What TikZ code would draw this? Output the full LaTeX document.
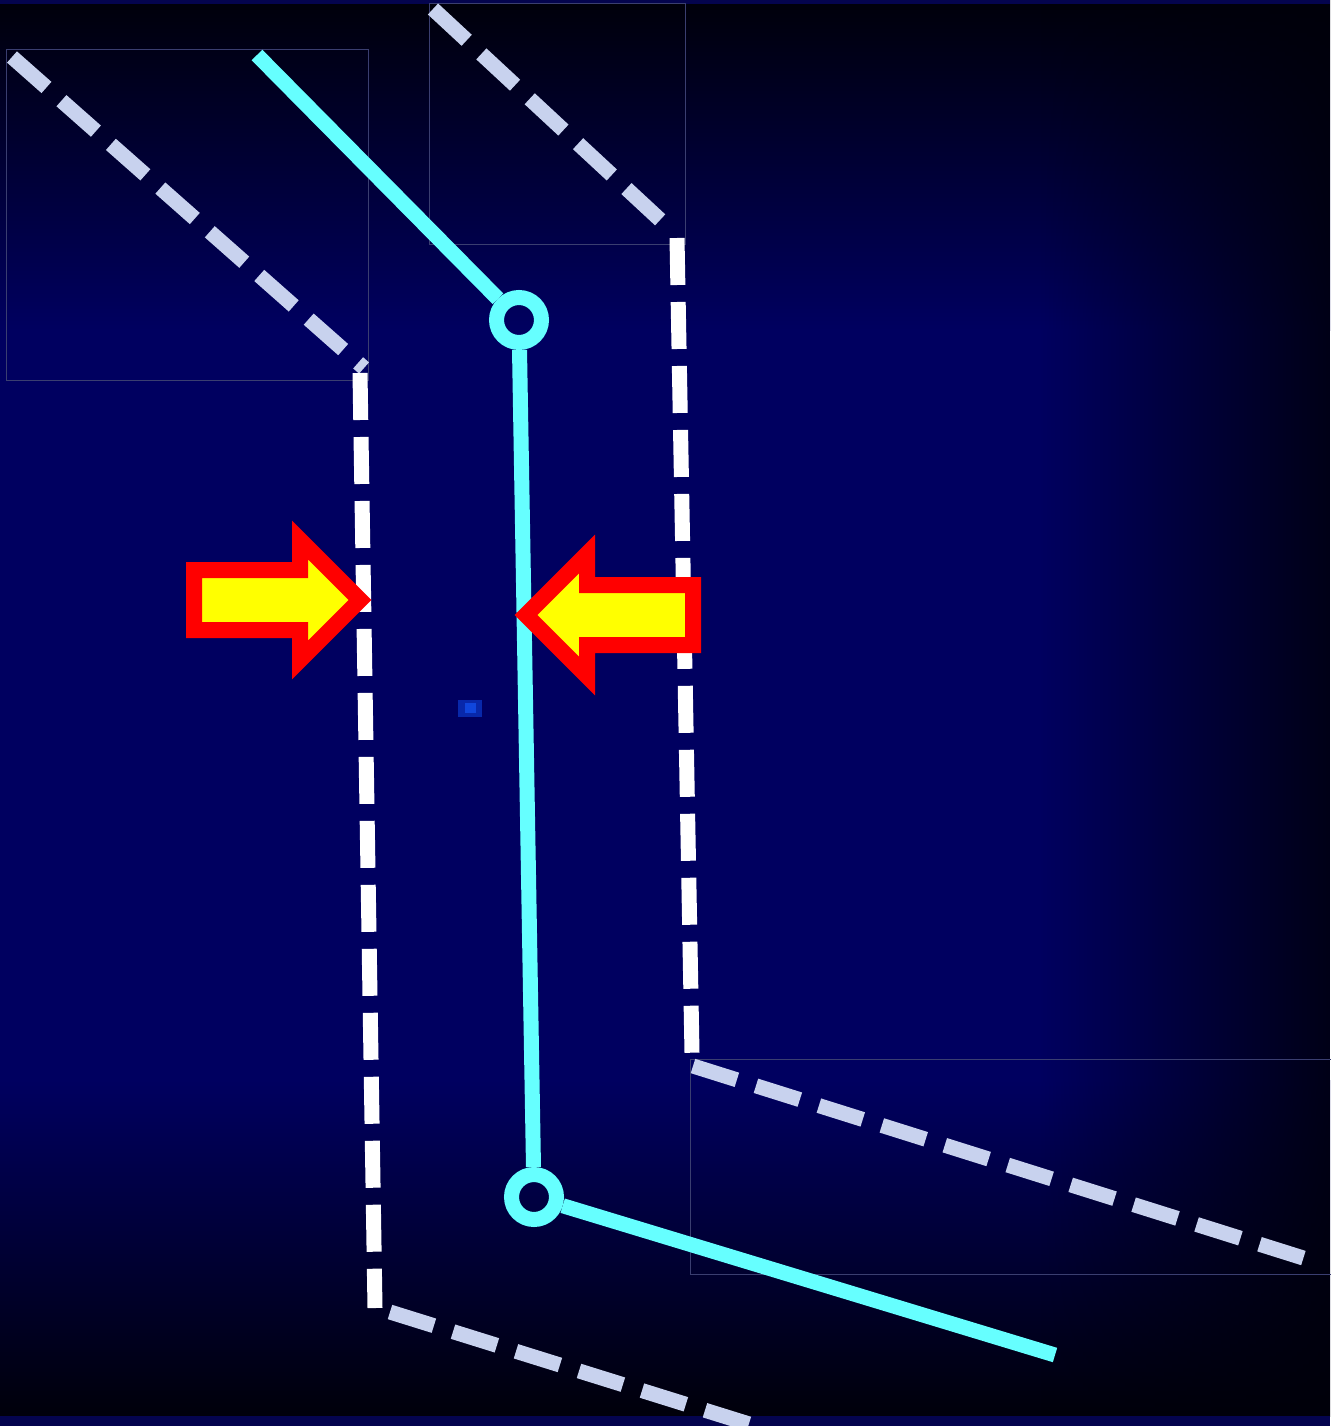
\documentclass[tikz,border=0pt]{standalone}
\usetikzlibrary{fadings}

\definecolor{navy}{RGB}{0,0,96}
\definecolor{deep}{RGB}{0,0,10}
\definecolor{edgeblue}{RGB}{4,4,78}
\definecolor{framegray}{RGB}{58,62,112}
\definecolor{paledash}{RGB}{200,210,238}
\definecolor{cyanline}{RGB}{102,255,255}
\definecolor{arrowred}{RGB}{255,0,0}
\definecolor{arrowyellow}{RGB}{255,255,0}
\definecolor{blotch}{RGB}{8,40,170}
\definecolor{blotchhi}{RGB}{16,70,220}

\tikzfading[name=fadeedge, left color=transparent!100, right color=transparent!0]

\begin{document}
\begin{tikzpicture}[
  x=0.02cm,y=-0.02cm,
  wall/.style={white,line width=0.3cm,dash pattern=on 0.94cm off 0.34cm},
  slant/.style={paledash,line width=0.3cm,dash pattern=on 0.92cm off 0.4cm},
  axis/.style={cyanline,line width=0.3cm},
  joint/.style={circle,draw=cyanline,line width=0.3cm,minimum size=0.9cm,inner sep=0pt},
  push/.style={draw=arrowred,fill=arrowyellow,line width=0.32cm,line join=miter},
  frame/.style={draw=framegray,line width=0.018cm}
]
\useasboundingbox (0,0) rectangle (1330,1426);

% ---- background ----
\fill[navy] (0,0) rectangle (1330,1426);
\shade[top color=deep,bottom color=navy] (0,0) rectangle (1330,330);
\shade[top color=navy,bottom color=deep] (0,1080) rectangle (1330,1416);
\fill[deep,path fading=fadeedge,fill opacity=0.85] (1040,0) rectangle (1330,1426);
\fill[edgeblue] (0,0) rectangle (1330,4);
\fill[edgeblue] (0,1416) rectangle (1330,1426);
\fill[blotch] (458,700) rectangle (482,717);
\fill[blotchhi] (465,703) rectangle (476,713);

% ---- pasted frames ----
\draw[frame] (6,49) rectangle (368,380);
\draw[frame] (429,3) rectangle (685,244);
\draw[frame] (690,1059) rectangle (1340,1274);

% ---- left wall ----
\coordinate (lw1) at (12,57);
\coordinate (lw2) at (364,368);
\coordinate (lw3) at (360,373);
\coordinate (lw4) at (375,1308);
\coordinate (lw5) at (390,1312);
\coordinate (lw6) at (762,1428);
\draw[slant] (lw1) -- (lw2);
\draw[wall] (lw3) -- (lw4);
\draw[slant] (lw5) -- (lw6);

% ---- right wall ----
\coordinate (rw1) at (433,9);
\coordinate (rw2) at (670,229);
\coordinate (rw3) at (677,238);
\coordinate (rw4) at (692,1053);
\coordinate (rw5) at (693,1066);
\coordinate (rw6) at (1316,1262);
\draw[slant] (rw1) -- (rw2);
\draw[wall] (rw3) -- (rw4);
\draw[slant] (rw5) -- (rw6);

% ---- cyan axis ----
\coordinate (ctop) at (257,55);
\node[joint] (j1) at (519,320) {};
\node[joint] (j2) at (534,1197) {};
\coordinate (cend) at (1055,1355);
\draw[axis] (ctop) -- (j1);
\draw[axis] (j1) -- (j2);
\draw[axis] (j2) -- (cend);

% ---- squeeze arrows ----
\draw[push] (194,570) -- (300,570) -- (300,540) -- (360,600)
            -- (300,660) -- (300,630) -- (194,630) -- cycle;
\draw[push] (693,585) -- (587,585) -- (587,554) -- (526,615)
            -- (587,676) -- (587,645) -- (693,645) -- cycle;

\end{tikzpicture}
\end{document}
